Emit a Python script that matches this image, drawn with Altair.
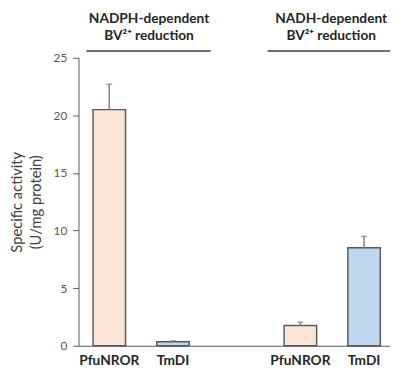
import altair as alt
import pandas as pd

# ---- data ----
cofactors = ["NADPH", "NADPH", "NADH", "NADH"]
enzymes = ["PfuNROR", "TmDI", "PfuNROR", "TmDI"]
activity = [20.5, 0.35, 1.75, 8.5]
errors = [2.2, 0.08, 0.3, 1.0]
enzyme_order = ["PfuNROR", "TmDI"]
bar_colors = ["#FBE5D6", "#BDD7EE"]
slots = ["NADPH|PfuNROR", "NADPH|TmDI", "gap", "NADH|PfuNROR", "NADH|TmDI"]
y_ticks = [0, 5, 10, 15, 20, 25]
header_line1 = ["NADPH-dependent", "NADH-dependent"]
header_line2 = ["BV²⁺ reduction", "BV²⁺ reduction"]

FONT = "Lato"

df = pd.DataFrame({
    "slot": [f"{c}|{e}" for c, e in zip(cofactors, enzymes)],
    "enzyme": enzymes,
    "activity": activity,
    "err_top": [a + e for a, e in zip(activity, errors)],
})

W, H = 318, 294

x = alt.X(
    "slot:N",
    scale=alt.Scale(domain=slots, paddingInner=0.49, paddingOuter=0.19, align=0.6),
    axis=alt.Axis(
        title=None,
        labelExpr="indexof(datum.value, '|') > 0 ? split(datum.value, '|')[1] : ''",
        labelAngle=0,
        ticks=False,
        labelFont=FONT,
        labelFontSize=14,
        labelFontWeight="bold",
        labelColor="#262626",
        labelPadding=8,
        domainColor="#595959",
        domainWidth=1.2,
    ),
)
y_scale = alt.Scale(domain=[0, 25], nice=False)

bars = alt.Chart(df).mark_bar(stroke="#595959", strokeWidth=1.5).encode(
    x=x,
    y=alt.Y(
        "activity:Q",
        scale=y_scale,
        axis=alt.Axis(
            title=["Specific activity", "(U/mg protein)"],
            values=y_ticks,
            grid=False,
            labelFont=FONT,
            labelFontSize=12,
            labelColor="#595959",
            labelPadding=6,
            tickSize=6,
            tickColor="#595959",
            domainColor="#595959",
            titleFont=FONT,
            titleFontSize=15,
            titleFontWeight="normal",
            titleColor="#404040",
            titleLineHeight=19,
            titlePadding=10,
        ),
    ),
    fill=alt.Fill("enzyme:N", scale=alt.Scale(domain=enzyme_order, range=bar_colors), legend=None),
)

err_rule = alt.Chart(df).mark_rule(color="#7f7f7f", strokeWidth=1.5).encode(
    x=x, y=alt.Y("activity:Q", scale=y_scale), y2="err_top:Q"
)
err_cap = alt.Chart(df).mark_tick(color="#7f7f7f", thickness=1.5, size=6, orient="horizontal").encode(
    x=x, y=alt.Y("err_top:Q", scale=y_scale)
)

hdr = pd.DataFrame({"l1": header_line1, "l2": header_line2, "px": [72, 258], "x1": [8, 193], "x2": [135, 318]})
hdr_text1 = alt.Chart(hdr).mark_text(font=FONT, fontSize=14, fontWeight="bold", color="#262626").encode(
    x=alt.X("px:Q", scale=None), y=alt.value(-40), text="l1:N"
)
hdr_text2 = alt.Chart(hdr).mark_text(font=FONT, fontSize=14, fontWeight="bold", color="#262626").encode(
    x=alt.X("px:Q", scale=None), y=alt.value(-22), text="l2:N"
)
hdr_rule = alt.Chart(hdr).mark_rule(color="#404040", strokeWidth=1.5).encode(
    x=alt.X("x1:Q", scale=None), x2="x2:Q", y=alt.value(-7)
)

chart = alt.layer(bars, err_rule, err_cap, hdr_text1, hdr_text2, hdr_rule).properties(
    width=W,
    height=H,
    autosize=alt.AutoSizeParams(type="none"),
    padding={"left": 72, "top": 47, "right": 0, "bottom": 24},
).configure_view(stroke=None)

chart.save("out.html", embed_options={"renderer": "svg", "actions": False})
